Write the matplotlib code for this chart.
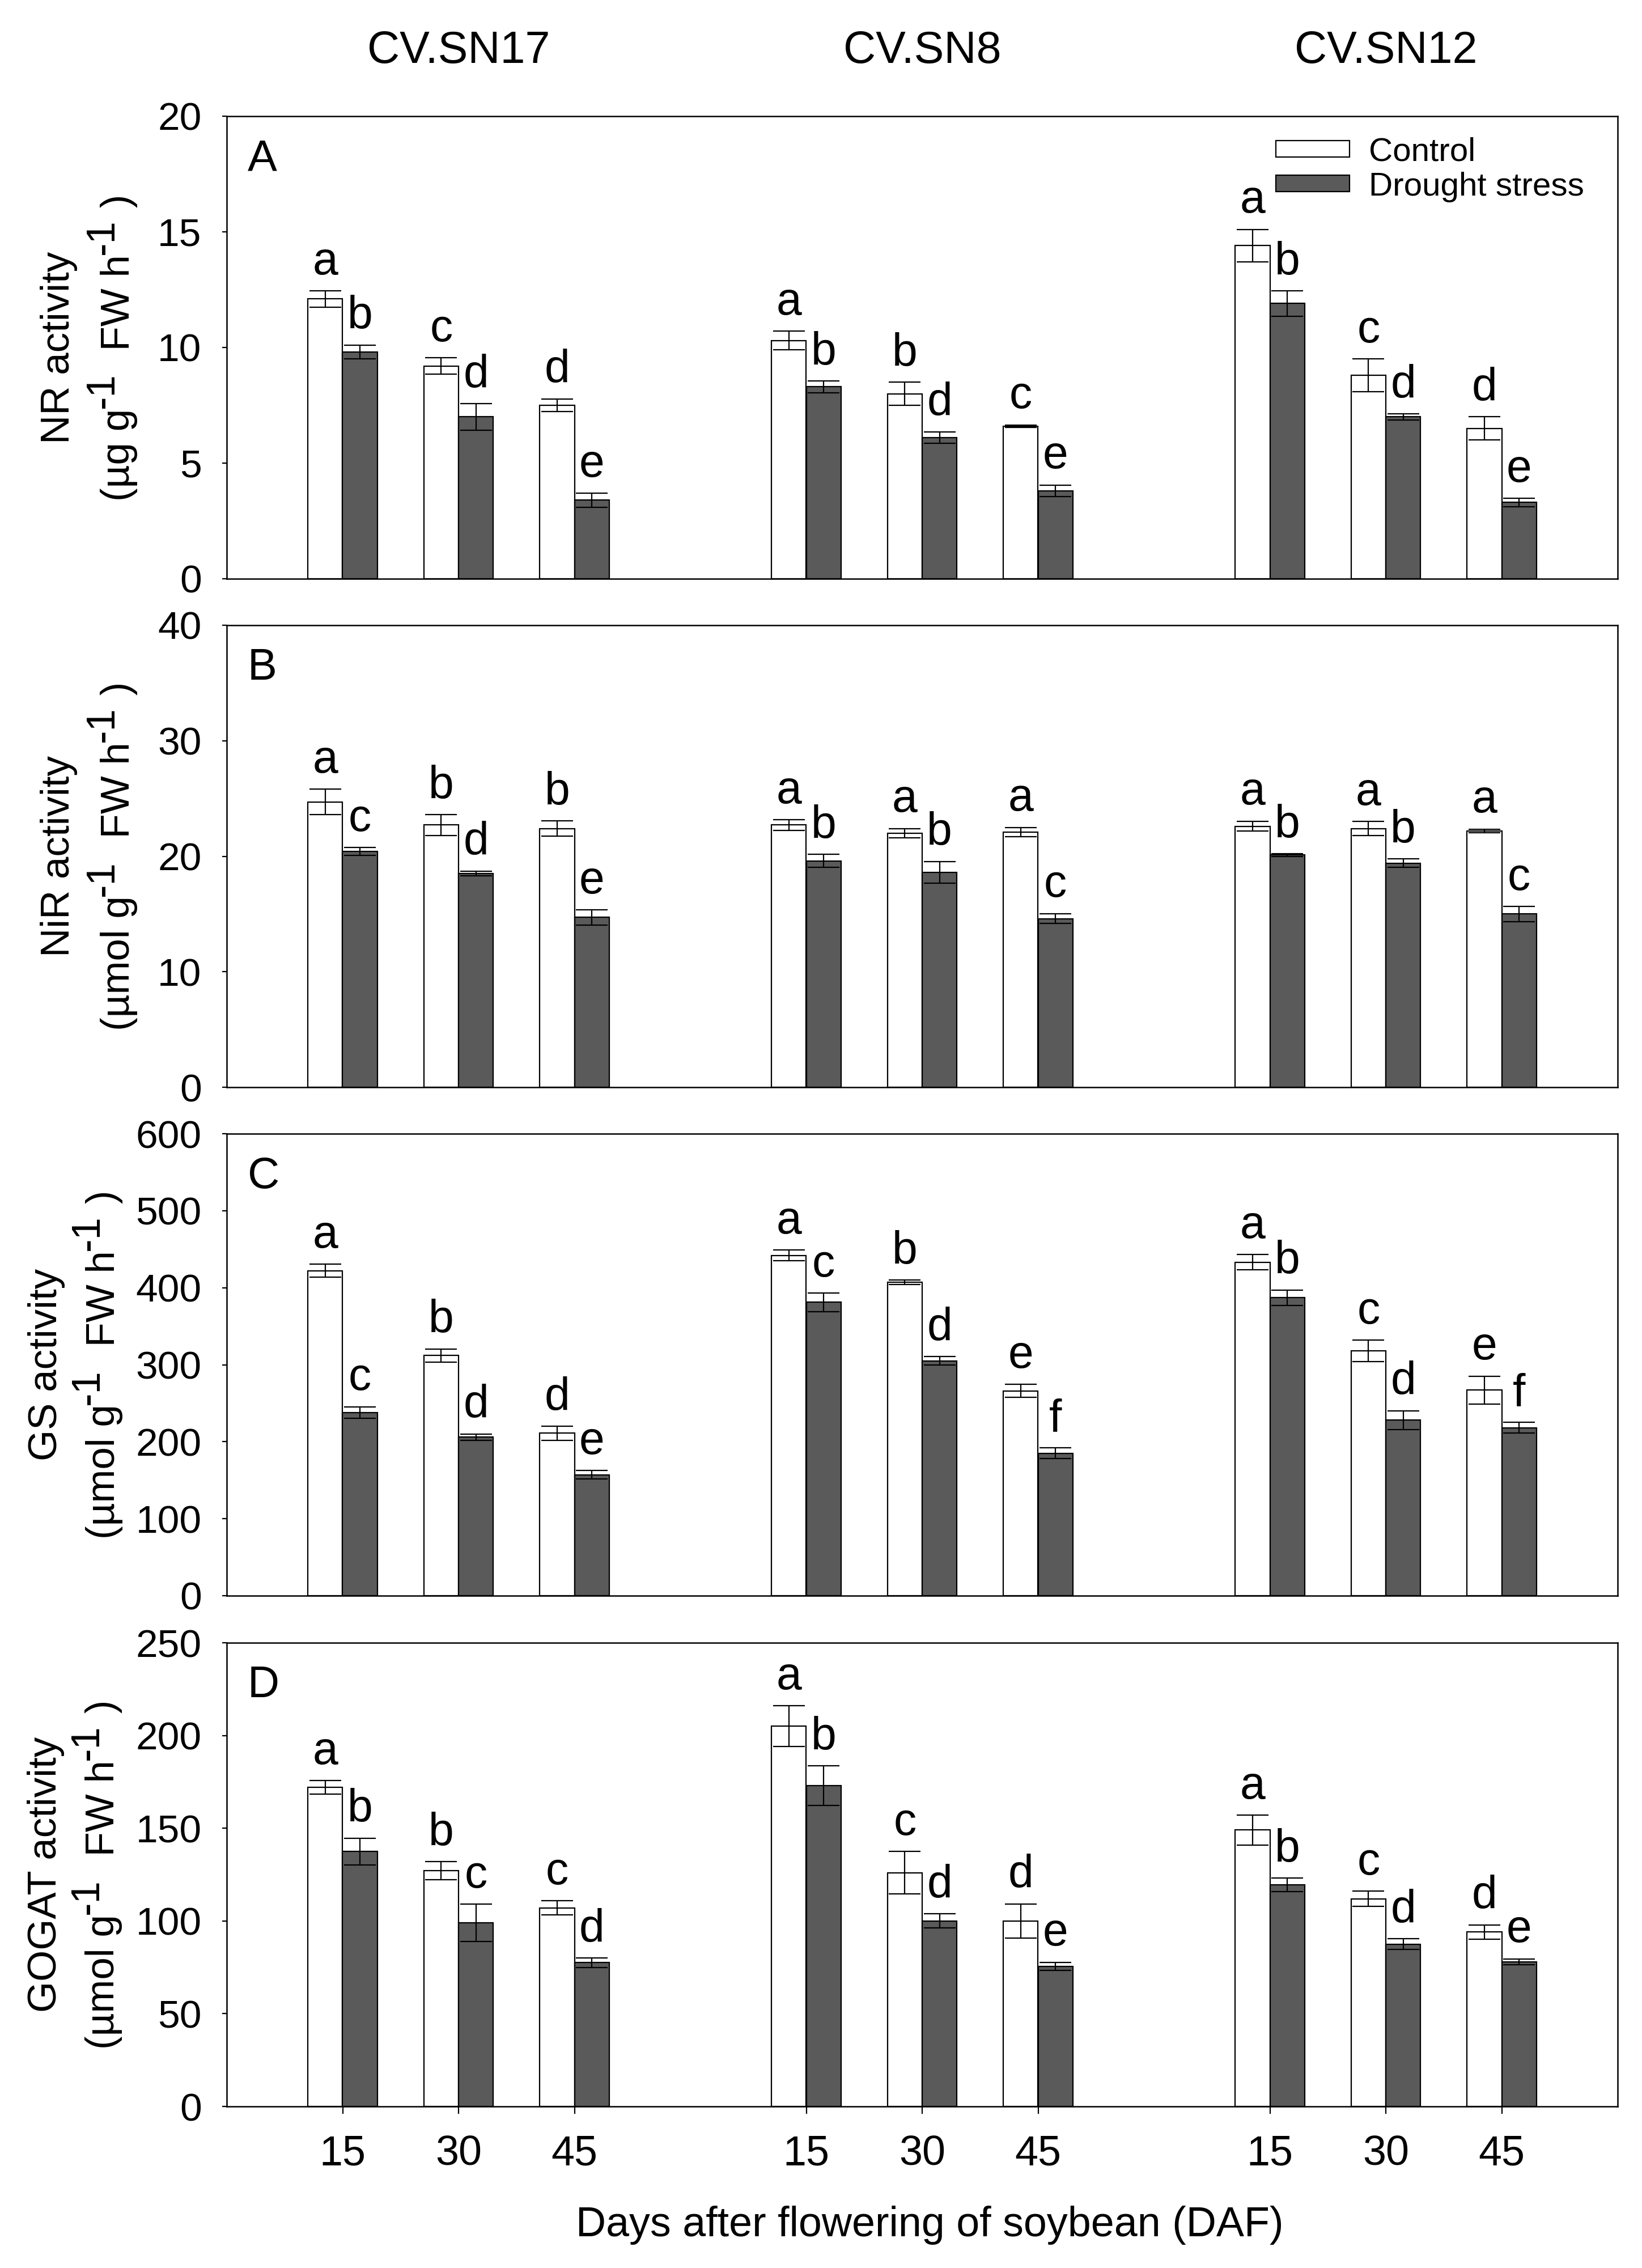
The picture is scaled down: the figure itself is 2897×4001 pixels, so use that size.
"""Nitrogen-metabolism enzyme activities of three soybean cultivars
under control and drought stress (panels A-D)."""

import matplotlib

matplotlib.use("Agg")
import matplotlib.pyplot as plt
import numpy as np
from matplotlib.font_manager import FontProperties
from matplotlib.patches import Patch
from matplotlib.transforms import blended_transform_factory

plt.rcParams["font.family"] = ["Liberation Sans", "DejaVu Sans"]

W_PX, H_PX = 2897, 4001

CULTIVARS = ["CV.SN17", "CV.SN8", "CV.SN12"]
DAYS = ["15", "30", "45"]
SERIES = ["Control", "Drought stress"]
PANEL_TAGS = ["A", "B", "C", "D"]
XLABEL = "Days after flowering of soybean (DAF)"

# --- A: NR activity ---------------------------------------------------
nr_ctrl = [12.1, 9.2, 7.5, 10.3, 8.0, 6.6, 14.4, 8.8, 6.5]
nr_ctrl_err = [0.35, 0.35, 0.27, 0.4, 0.5, 0.05, 0.7, 0.7, 0.5]
nr_drought = [9.8, 7.0, 3.4, 8.3, 6.1, 3.8, 11.9, 7.0, 3.3]
nr_drought_err = [0.3, 0.57, 0.3, 0.25, 0.25, 0.25, 0.55, 0.13, 0.18]
nr_ctrl_letters = ["a", "c", "d", "a", "b", "c", "a", "c", "d"]
nr_drought_letters = ["b", "d", "e", "b", "d", "e", "b", "d", "e"]

# --- B: NiR activity --------------------------------------------------
nir_ctrl = [24.7, 22.7, 22.4, 22.7, 22.0, 22.1, 22.6, 22.4, 22.2]
nir_ctrl_err = [1.1, 0.9, 0.65, 0.45, 0.4, 0.4, 0.42, 0.6, 0.15]
nir_drought = [20.4, 18.5, 14.7, 19.6, 18.6, 14.6, 20.1, 19.4, 15.0]
nir_drought_err = [0.35, 0.2, 0.65, 0.55, 0.95, 0.42, 0.1, 0.37, 0.65]
nir_ctrl_letters = ["a", "b", "b", "a", "a", "a", "a", "a", "a"]
nir_drought_letters = ["c", "d", "e", "b", "b", "c", "b", "b", "c"]

# --- C: GS activity ---------------------------------------------------
gs_ctrl = [422, 312, 211, 442, 407, 266, 433, 318, 267]
gs_ctrl_err = [8.5, 8.5, 9, 7, 3, 8.5, 10, 14, 18]
gs_drought = [238, 206, 157, 381, 305, 185, 387, 228, 218]
gs_drought_err = [7.5, 4, 5.5, 12, 5.5, 7, 10, 12, 7]
gs_ctrl_letters = ["a", "b", "d", "a", "b", "e", "a", "c", "e"]
gs_drought_letters = ["c", "d", "e", "c", "d", "f", "b", "d", "f"]

# --- D: GOGAT activity ------------------------------------------------
gogat_ctrl = [172, 127, 107, 205, 126, 100, 149, 112, 94]
gogat_ctrl_err = [3.6, 4.9, 3.8, 11, 11.5, 9.2, 8, 4, 3.8]
gogat_drought = [137.5, 99, 77.5, 173, 100, 75.5, 119.5, 87.5, 78]
gogat_drought_err = [7.2, 10, 2.5, 10.6, 3.8, 2.2, 3.6, 2.9, 1.5]
gogat_ctrl_letters = ["a", "b", "c", "a", "c", "d", "a", "c", "d"]
gogat_drought_letters = ["b", "c", "d", "b", "d", "e", "b", "d", "e"]

Y_NAMES = ["NR activity", "NiR activity", "GS activity", "GOGAT activity"]
Y_UNITS = ["\u00b5g", "\u00b5mol", "\u00b5mol", "\u00b5mol"]
Y_LIMITS = [20, 40, 600, 250]
Y_STEPS = [5, 10, 100, 50]

PANELS = [
    (nr_ctrl, nr_ctrl_err, nr_drought, nr_drought_err, nr_ctrl_letters, nr_drought_letters),
    (nir_ctrl, nir_ctrl_err, nir_drought, nir_drought_err, nir_ctrl_letters, nir_drought_letters),
    (gs_ctrl, gs_ctrl_err, gs_drought, gs_drought_err, gs_ctrl_letters, gs_drought_letters),
    (gogat_ctrl, gogat_ctrl_err, gogat_drought, gogat_drought_err, gogat_ctrl_letters, gogat_drought_letters),
]

# layout (figure pixels, measured from the top)
AX_LEFT, AX_RIGHT = 400, 2854
AX_SPANS = [(205, 1021), (1103, 1918), (2000, 2815), (2898, 3716)]
YLABEL_BASES = [(122, 228), (122, 228), (100, 202), (99, 201)]
BAR_W = 0.3
DROUGHT_COLOR = "#5a5a5a"
FS_TICK, FS_XTICK, FS_LABEL, FS_XLABEL = 50, 53, 51, 53
FS_LETTER, FS_TITLE, FS_TAG, FS_LEGEND = 58, 57, 56, 42


def positions():
    return np.array([1 + 4 * c + d for c in range(len(CULTIVARS)) for d in range(len(DAYS))], float)


def fx(px):
    return px / W_PX


def fy(px):
    return 1 - px / H_PX


def text_advance(renderer, s, prop):
    w1, _, _ = renderer.get_text_width_height_descent("x" + s + "x", prop, ismath=False)
    w0, _, _ = renderer.get_text_width_height_descent("xx", prop, ismath=False)
    return w1 - w0


def rotated_label(fig, renderer, x_base, y_center, segments, size):
    """Vertical text made of pieces; (text, raise_px) so superscripts stay full size."""
    prop = FontProperties(family=plt.rcParams["font.family"], size=size)
    widths = [text_advance(renderer, s, prop) for s, _ in segments]
    y = y_center + sum(widths) / 2  # pixel from top; text runs upward
    for (s, rise), w in zip(segments, widths):
        fig.text(fx(x_base - rise), fy(y), s, rotation=90, rotation_mode="anchor",
                 ha="left", va="baseline", fontsize=size)
        y -= w


def main():
    fig = plt.figure(figsize=(W_PX / 100, H_PX / 100), dpi=100)
    renderer = fig.canvas.get_renderer()
    x = positions()
    axes = []

    for i, (ctrl, ctrl_err, dr, dr_err, lc, ld) in enumerate(PANELS):
        top, bot = AX_SPANS[i]
        ax = fig.add_axes([fx(AX_LEFT), fy(bot), fx(AX_RIGHT - AX_LEFT), (bot - top) / H_PX])
        axes.append(ax)
        ekw = dict(elinewidth=1.6, capsize=20, capthick=1.6, ecolor="black")
        ax.bar(x - BAR_W / 2, ctrl, BAR_W, yerr=ctrl_err, color="white",
               edgecolor="black", linewidth=1.6, error_kw=ekw, label=SERIES[0])
        ax.bar(x + BAR_W / 2, dr, BAR_W, yerr=dr_err, color=DROUGHT_COLOR,
               edgecolor="black", linewidth=1.6, error_kw=ekw, label=SERIES[1])

        for xi, v, e, s in zip(x - BAR_W / 2, ctrl, ctrl_err, lc):
            ax.annotate(s, (xi, v + e), xytext=(0, 9), textcoords="offset points",
                        ha="center", va="bottom", fontsize=FS_LETTER)
        for xi, v, e, s in zip(x + BAR_W / 2, dr, dr_err, ld):
            ax.annotate(s, (xi, v + e), xytext=(0, 9), textcoords="offset points",
                        ha="center", va="bottom", fontsize=FS_LETTER)

        ax.set_xlim(0, 12)
        ax.set_ylim(0, Y_LIMITS[i])
        ax.set_yticks(np.arange(0, Y_LIMITS[i] + 1, Y_STEPS[i]))
        ax.tick_params(axis="y", direction="out", length=6, width=1.6,
                       labelsize=FS_TICK, pad=26)
        for sp in ax.spines.values():
            sp.set_linewidth(1.8)

        if i == len(PANELS) - 1:
            ax.set_xticks(x)
            ax.set_xticklabels(DAYS * len(CULTIVARS))
            ax.tick_params(axis="x", direction="out", length=9, width=1.6,
                           labelsize=FS_XTICK, pad=27)
        else:
            ax.set_xticks([])

        ax.text(0.015, 0.952, PANEL_TAGS[i], transform=ax.transAxes,
                ha="left", va="top", fontsize=FS_TAG)

        l1, l2 = YLABEL_BASES[i]
        yc = (top + bot) / 2
        rotated_label(fig, renderer, l1, yc, [(Y_NAMES[i], 0)], FS_LABEL)
        rotated_label(fig, renderer, l2, yc,
                      [("(" + Y_UNITS[i] + " g", 0), ("-1", 28), ("  FW h", 0),
                       ("-1", 28), (" )", 0)], FS_LABEL)

    axes[0].legend(
        handles=[Patch(facecolor="white", edgecolor="black", linewidth=1.6, label=SERIES[0]),
                 Patch(facecolor=DROUGHT_COLOR, edgecolor="black", linewidth=1.6, label=SERIES[1])],
        loc="upper right", bbox_to_anchor=(0.976, 0.955), frameon=False,
        fontsize=FS_LEGEND, handlelength=2.23, handleheight=0.38,
        handletextpad=0.58, labelspacing=0.12, borderpad=0, borderaxespad=0,
    )

    title_tf = blended_transform_factory(axes[0].transData, fig.transFigure)
    for c, name in enumerate(CULTIVARS):
        axes[0].text(x[3 * c + 1], fy(111), name, transform=title_tf,
                     ha="center", va="baseline", fontsize=FS_TITLE)

    fig.text(fx(1640), fy(3945), XLABEL, ha="center", va="baseline", fontsize=FS_XLABEL)

    fig.savefig("out.png", dpi=100, facecolor="white")
    plt.close(fig)


if __name__ == "__main__":
    main()
